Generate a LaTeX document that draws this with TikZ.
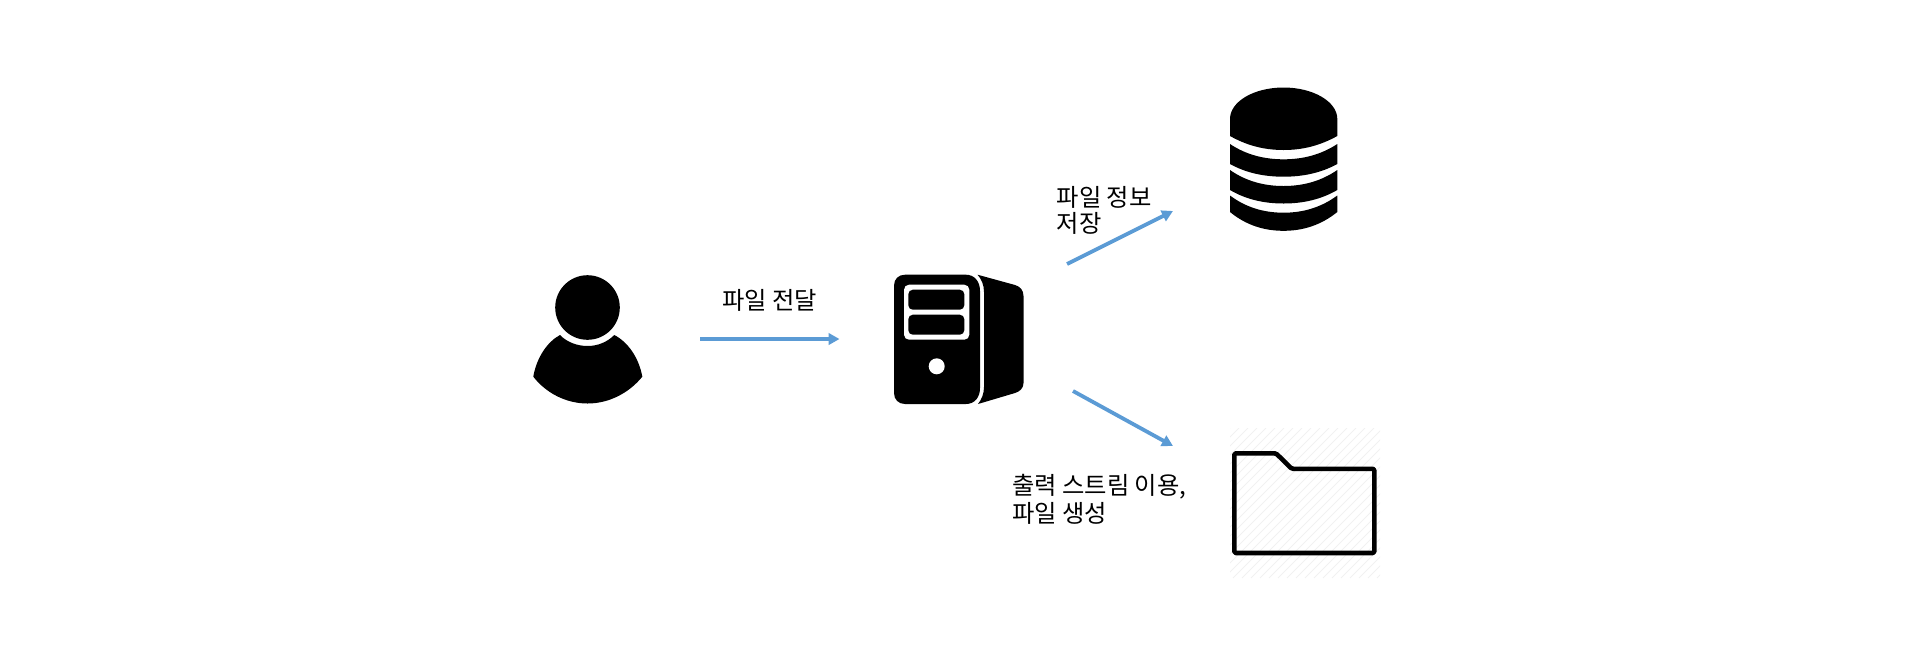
\documentclass[tikz,border=0pt]{standalone}
\usepackage{fontspec}
\usetikzlibrary{arrows.meta}
\newfontfamily\krfont{Noto Sans CJK KR}
\definecolor{arrowblue}{HTML}{5B9BD5}
\definecolor{hatchgray}{HTML}{F1F1F1}
\tikzset{
  flowarrow/.style={draw=arrowblue,line width=3.8pt,-{Triangle[length=11pt,width=11.5pt]},shorten >=0pt},
  label/.style={inner sep=0pt,anchor=west,font=\krfont\fontsize{24.3}{28}\selectfont},
  icon/.style={fill=black,draw=none},
  gap/.style={fill=white,draw=none}
}
\begin{document}
\begin{tikzpicture}[x=1pt,y=-1pt]
\useasboundingbox (0,0) rectangle (1917,665);
% person
\fill[icon] (587.5,307.5) circle (32.3);
\fill[icon] (560,335) .. controls (567,342.3) and (577.5,346) .. (587.5,346)
  .. controls (597.5,346) and (607,342.3) .. (614.3,335)
  .. controls (628,342) and (639,358) .. (642.3,376.7)
  .. controls (629,393) and (609,403.5) .. (587.5,403.5)
  .. controls (566,403.5) and (546,393) .. (533.3,376.7)
  .. controls (536.5,358) and (547,342) .. (560,335) -- cycle;
% server
\fill[icon] (905,274.7) -- (966,274.7) .. controls (974,274.7) and (980,281) .. (980,291)
  -- (980,388) .. controls (980,398) and (974,404) .. (966,404) -- (905,404)
  .. controls (898.5,404) and (894,399.5) .. (894,393) -- (894,285.7)
  .. controls (894,279) and (898.5,274.7) .. (905,274.7) -- cycle;
\fill[icon] (977.5,274.7) .. controls (981.5,279) and (984,285) .. (984,292) -- (984,387)
  .. controls (984,394) and (981.5,399.5) .. (978,404) -- (1015,393)
  .. controls (1020,391.5) and (1023.5,388) .. (1023.5,383) -- (1023.5,296)
  .. controls (1023.5,290) and (1020,286.5) .. (1015,285) -- cycle;
\fill[gap,rounded corners=5pt] (904,284.7) rectangle (969.3,339.7);
\fill[icon,rounded corners=4.5pt] (908.3,289.7) rectangle (964.3,309.7);
\fill[icon,rounded corners=4.5pt] (908.3,314.7) rectangle (964.3,334.7);
\fill[gap] (936.7,366.3) circle (8);
% database
\fill[icon] (1230,119) .. controls (1230,101.5) and (1254,87.5) .. (1283.6,87.5)
  .. controls (1313,87.5) and (1337.3,101.5) .. (1337.3,119)
  -- (1337.3,136) .. controls (1321,145) and (1304,150) .. (1283.6,150)
  .. controls (1263,150) and (1246,145) .. (1230,136) -- cycle;
\foreach \st/\sb/\ct/\cb in {144/164/159.3/176.7, 170/190/186/203.5, 195.5/212/212.7/230.8}{
  \fill[icon] (1230,\st) .. controls (1246,{\st+.7*(\ct-\st)}) and (1264,\ct) .. (1283.6,\ct)
    .. controls (1303,\ct) and (1321,{\st+.7*(\ct-\st)}) .. (1337.3,\st)
    -- (1337.3,\sb) .. controls (1321,{\sb+.7*(\cb-\sb)}) and (1303,\cb) .. (1283.6,\cb)
    .. controls (1264,\cb) and (1246,{\sb+.7*(\cb-\sb)}) .. (1230,\sb) -- cycle;
}
% folder
\begin{scope}
  \clip (1230,428) rectangle (1380,578);
  \foreach \k in {0,9,...,300}{
    \draw[hatchgray,line width=0.8pt] ({1230+\k-150},578) -- ({1230+\k},428);
  }
\end{scope}
\draw[black,line width=4.6pt,line join=round,rounded corners=1.5pt]
  (1234.3,453.3) -- (1276,453.3) -- (1291.7,468.8) -- (1374.3,468.8) -- (1374.3,553) -- (1234.3,553) -- cycle;
% labels
\node[label] (t1) at (722,300) {파일 전달};
\node[label] (t2a) at (1056.5,197) {파일 정보};
\node[label] (t2b) at (1056.5,223) {저장};
\node[label] (t3a) at (1012,487) {출력 스트림 이용,};
\node[label] (t3b) at (1012,513) {파일 생성};
% connectors
\coordinate (a1s) at (700,339);
\coordinate (a1e) at (839.5,339);
\coordinate (a2s) at (1067,264);
\coordinate (a2e) at (1173,211);
\coordinate (a3s) at (1073,391);
\coordinate (a3e) at (1173,446);
\draw[flowarrow] (a1s) -- (a1e);
\draw[flowarrow] (a2s) -- (a2e);
\draw[flowarrow] (a3s) -- (a3e);
\end{tikzpicture}
\end{document}
